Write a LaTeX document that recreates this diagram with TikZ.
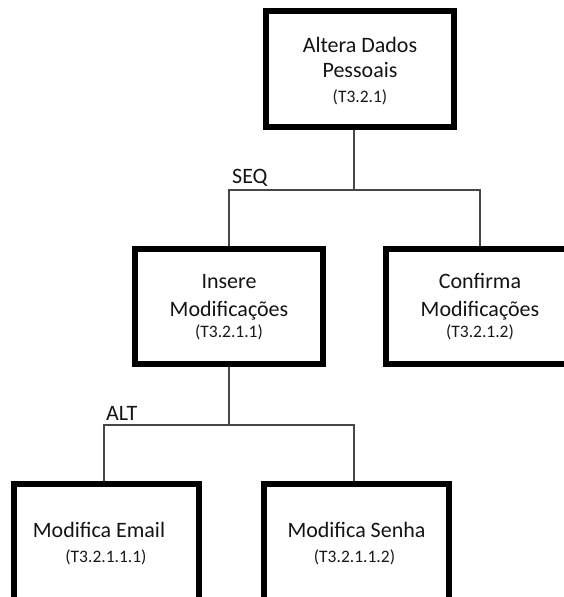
\documentclass[tikz,border=0pt]{standalone}
\usepackage{fontspec}
\setmainfont{Carlito}
\begin{document}
\begin{tikzpicture}[x=1pt,y=-1pt,
  taskbox/.style={draw=black, line width=4pt, rectangle, inner sep=0pt},
  maintext/.style={anchor=base, inner sep=0pt, text=black!92, font=\fontsize{22}{26}\selectfont},
  idtext/.style={anchor=base, inner sep=0pt, text=black!90, font=\fontsize{17.5}{20}\selectfont},
  tree/.style={draw=black!72, line width=1.4pt},
  oplabel/.style={anchor=base west, inner sep=0pt, text=black!92, font=\fontsize{22}{26}\selectfont}]
\useasboundingbox (0,0) rectangle (564,597);
\clip (0,0) rectangle (564,597);
\fill[white] (0,0) rectangle (564,597);

% task boxes
\node[taskbox, minimum width=186pt, minimum height=114pt] (top)   at (360,69) {};
\node[taskbox, minimum width=186pt, minimum height=113pt] (ins)   at (229,306.5) {};
\node[taskbox, minimum width=186pt, minimum height=113pt] (conf)  at (480,306.5) {};
\node[taskbox, minimum width=183pt, minimum height=125pt] (email) at (106.5,547.5) {};
\node[taskbox, minimum width=183pt, minimum height=125pt] (senha) at (356.5,547.5) {};

% box texts
\node[maintext] (topa) at (360,52) {Altera Dados};
\node[maintext] (topb) at (360,77) {Pessoais};
\node[idtext]   (topc) at (360,102.5) {(T3.2.1)};

\node[maintext] (insa) at (229,288) {Insere};
\node[maintext] (insb) at (229,316) {Modificações};
\node[idtext]   (insc) at (229,337.5) {(T3.2.1.1)};

\node[maintext] (confa) at (480,288) {Confirma};
\node[maintext] (confb) at (480,316) {Modificações};
\node[idtext]   (confc) at (480,337.5) {(T3.2.1.2)};

\node[maintext] (emaila) at (99,537.5) {Modifica Email};
\node[idtext]   (emailb) at (106,562.5) {(T3.2.1.1.1)};

\node[maintext] (senhaa) at (356.5,537.5) {Modifica Senha};
\node[idtext]   (senhab) at (354.5,562.5) {(T3.2.1.1.2)};

% decomposition connectors
\coordinate (seqJ) at (354,190);
\coordinate (altL) at (104,425);
\coordinate (altR) at (354,425);

\draw[tree] (top.south -| seqJ) -- (seqJ);
\draw[tree] (ins.north) |- (seqJ);
\draw[tree] (conf.north) |- (seqJ);

\draw[tree] (ins.south) -- (ins.south |- altL);
\draw[tree] (email.north -| altL) -- (altL) -- (altR) -- (senha.north -| altR);

% operator labels
\node[oplabel] (seq) at (232,183) {SEQ};
\node[oplabel] (alt) at (106,420) {ALT};

% redraw borders over connector ends
\draw[line width=4pt] (top.south west) rectangle (top.north east);
\draw[line width=4pt] (ins.south west) rectangle (ins.north east);
\draw[line width=4pt] (conf.south west) rectangle (conf.north east);
\draw[line width=4pt] (email.south west) rectangle (email.north east);
\draw[line width=4pt] (senha.south west) rectangle (senha.north east);
\end{tikzpicture}
\end{document}
